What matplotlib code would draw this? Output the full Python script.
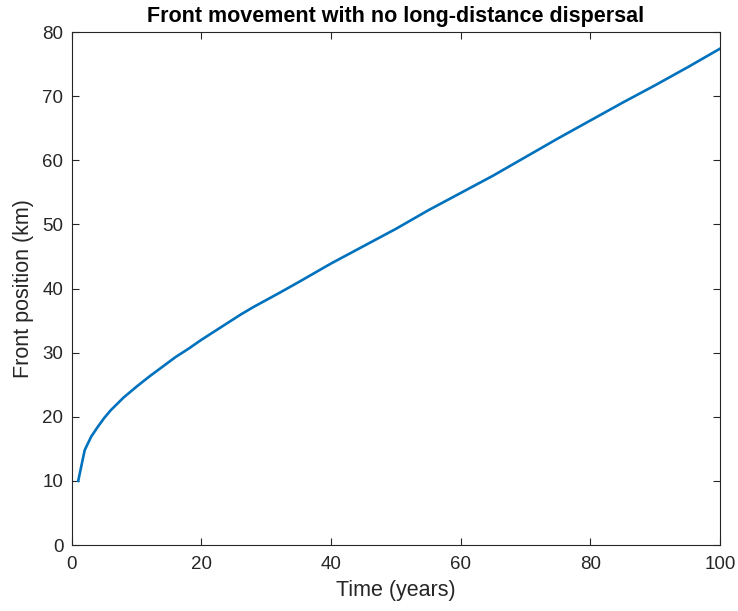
import matplotlib
matplotlib.use('Agg')
from matplotlib import pyplot as plt

# front position (years, km)
years = [1, 2, 3, 4, 5, 6, 7, 8, 10, 12, 14, 16, 18, 20, 22, 24, 26, 28, 30,
         32, 35, 40, 45, 50, 55, 60, 65, 70, 75, 80, 85, 90, 95, 100]
front_km = [10, 14.8, 16.9, 18.4, 19.8, 21.0, 22.0, 23.0, 24.7, 26.3, 27.8,
            29.3, 30.6, 32.0, 33.3, 34.6, 35.9, 37.1, 38.2, 39.3, 41.0, 43.9,
            46.6, 49.3, 52.2, 54.9, 57.6, 60.5, 63.4, 66.2, 69.0, 71.7, 74.5,
            77.4]
xticks = [0, 20, 40, 60, 80, 100]
yticks = [0, 10, 20, 30, 40, 50, 60, 70, 80]

plt.rcParams['font.family'] = ['Liberation Sans', 'DejaVu Sans']
axcol = '#262626'

fig = plt.figure(figsize=(7.38, 6.11), dpi=100)
ax = fig.add_axes([0.0972, 0.108, 0.8784, 0.8396])
ax.plot(years, front_km, color='#0072BD', linewidth=1.9)
ax.set_xlim(0, 100)
ax.set_ylim(0, 80)
ax.set_xticks(xticks)
ax.set_yticks(yticks)
ax.tick_params(direction='in', length=5, width=0.8, colors=axcol,
               labelsize=13.5, top=True, right=True, labeltop=False,
               labelright=False)
ax.tick_params(axis='x', pad=8)
ax.tick_params(axis='y', pad=6)
for s in ax.spines.values():
    s.set_color(axcol)
    s.set_linewidth(0.8)
ax.set_title('Front movement with no long-distance dispersal',
             fontsize=15.5, fontweight='bold', color='black', pad=7)
ax.set_xlabel('Time (years)', fontsize=15.5, color=axcol, labelpad=5)
ax.set_ylabel('Front position (km)', fontsize=15.5, color=axcol, labelpad=6)

fig.savefig('out.png', dpi=100)
